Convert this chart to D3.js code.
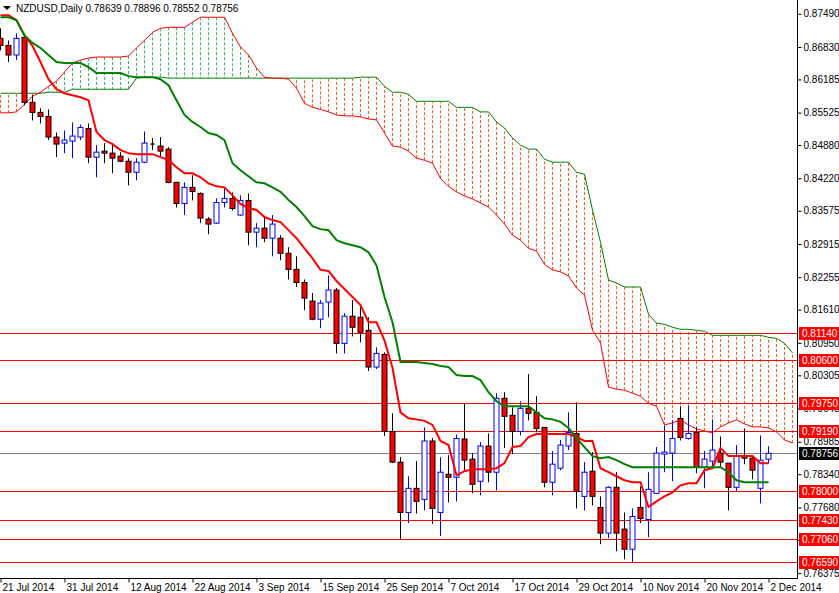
<!DOCTYPE html>
<html>
<head>
<meta charset="utf-8">
<script src="https://cdn.jsdelivr.net/npm/d3@7"></script>
<style>
  body { margin: 0; background: #fff; }
  svg text { font-family: "Liberation Sans", Arial, sans-serif; }
</style>
</head>
<body>
<svg id="chart" width="839" height="593"></svg>
<script>
// NZDUSD daily, 21 Jul 2014 .. 2 Dec 2014 (index 0 = 21 Jul)
var open = [0.8700,0.8686,0.8667,0.8702,0.8573,0.8553,0.8545,0.8504,0.8492,0.8496,
  0.8504,0.8521,0.8464,0.8476,0.8472,0.8466,0.8456,0.8434,0.8454,0.8490,
  0.8486,0.8480,0.8414,0.8372,0.8404,0.8392,0.8341,0.8333,0.8374,0.8382,
  0.8349,0.8378,0.8315,0.8323,0.8303,0.8303,0.8273,0.8241,0.8215,0.8178,
  0.8142,0.8176,0.8200,0.8094,0.8148,0.8146,0.8120,0.8047,0.8072,0.7919,
  0.7858,0.7758,0.7806,0.7784,0.7900,0.7758,0.7834,0.7828,0.7904,0.7864,
  0.7820,0.7890,0.7838,0.7985,0.7951,0.7919,0.7965,0.7957,0.7927,0.7818,
  0.7846,0.7890,0.7915,0.7790,0.7840,0.7768,0.7717,0.7808,0.7725,0.7685,
  0.7768,0.7744,0.7796,0.7874,0.7876,0.7945,0.7905,0.7917,0.7848,0.7860,
  0.7876,0.7856,0.7808,0.7870,0.7866,0.7806,0.78639];
var high = [0.8720,0.8696,0.8710,0.8710,0.8587,0.8561,0.8559,0.8513,0.8517,0.8533,
  0.8529,0.8531,0.8488,0.8492,0.8492,0.8474,0.8462,0.8462,0.8515,0.8502,
  0.8504,0.8484,0.8414,0.8414,0.8428,0.8394,0.8345,0.8382,0.8402,0.8394,
  0.8388,0.8392,0.8333,0.8345,0.8349,0.8309,0.8285,0.8267,0.8221,0.8194,
  0.8180,0.8229,0.8204,0.8154,0.8180,0.8166,0.8146,0.8086,0.8076,0.7955,
  0.7868,0.7830,0.7860,0.7927,0.7906,0.7868,0.7872,0.7913,0.7975,0.7876,
  0.7898,0.7915,0.7995,0.7997,0.7967,0.7979,0.8033,0.7989,0.7927,0.7880,
  0.7902,0.7957,0.7977,0.7858,0.7878,0.7790,0.7810,0.7838,0.7758,0.7766,
  0.7810,0.7838,0.7888,0.7931,0.7941,0.7969,0.7971,0.7927,0.7880,0.7943,
  0.7909,0.7856,0.7892,0.7925,0.7868,0.7911,0.78896];
var low = [0.8676,0.8653,0.8657,0.8567,0.8537,0.8531,0.8498,0.8464,0.8472,0.8462,
  0.8498,0.8452,0.8424,0.8452,0.8432,0.8454,0.8408,0.8418,0.8452,0.8478,
  0.8464,0.8412,0.8364,0.8349,0.8378,0.8333,0.8311,0.8331,0.8364,0.8358,
  0.8347,0.8289,0.8285,0.8295,0.8267,0.8259,0.8221,0.8206,0.8160,0.8140,
  0.8124,0.8146,0.8074,0.8074,0.8108,0.8096,0.8039,0.8043,0.7910,0.7856,
  0.7705,0.7737,0.7756,0.7762,0.7735,0.7711,0.7778,0.7780,0.7842,0.7796,
  0.7792,0.7818,0.7802,0.7886,0.7874,0.7911,0.7941,0.7917,0.7808,0.7792,
  0.7842,0.7882,0.7766,0.7762,0.7772,0.7695,0.7707,0.7681,0.7665,0.7659,
  0.7737,0.7709,0.7796,0.7838,0.7820,0.7901,0.7903,0.7836,0.7806,0.7846,
  0.7848,0.7762,0.7800,0.7854,0.7824,0.7776,0.78552];
var close = [0.8686,0.8667,0.8700,0.8573,0.8553,0.8545,0.8504,0.8490,0.8498,0.8506,
  0.8523,0.8464,0.8474,0.8472,0.8462,0.8456,0.8434,0.8454,0.8492,0.8490,
  0.8476,0.8414,0.8372,0.8404,0.8396,0.8343,0.8331,0.8374,0.8382,0.8362,
  0.8378,0.8315,0.8323,0.8303,0.8331,0.8273,0.8241,0.8215,0.8184,0.8142,
  0.8174,0.8200,0.8094,0.8148,0.8126,0.8116,0.8047,0.8074,0.7919,0.7858,
  0.7758,0.7806,0.7780,0.7900,0.7766,0.7838,0.7828,0.7905,0.7862,0.7814,
  0.7890,0.7838,0.7985,0.7949,0.7919,0.7965,0.7955,0.7925,0.7818,0.7854,
  0.7892,0.7917,0.7800,0.7838,0.7790,0.7717,0.7808,0.7717,0.7685,0.7750,
  0.7746,0.7804,0.7876,0.7878,0.7905,0.7907,0.7915,0.7848,0.7864,0.7882,
  0.7858,0.7808,0.7870,0.7866,0.7842,0.7862,0.78756];

var tenkan = [0.8746,0.8746,0.8736,0.8706,0.8685,0.8653,0.8619,0.8599,0.8591,0.8587,
  0.8583,0.8577,0.8514,0.8498,0.8490,0.8478,0.8472,0.8470,0.8470,0.8470,
  0.8464,0.8458,0.8444,0.8432,0.8432,0.8424,0.8412,0.8406,0.8404,0.8388,
  0.8371,0.8363,0.8359,0.8345,0.8339,0.8335,0.8319,0.8303,0.8283,0.8263,
  0.8240,0.8238,0.8218,0.8202,0.8186,0.8170,0.8136,0.8136,0.8100,0.8045,
  0.7957,0.7945,0.7943,0.7940,0.7932,0.7900,0.7892,0.7832,0.7840,0.7844,
  0.7844,0.7844,0.7846,0.7856,0.7888,0.7890,0.7908,0.7914,0.7914,0.7914,
  0.7914,0.7914,0.7908,0.7900,0.7900,0.7846,0.7838,0.7830,0.7822,0.7818,
  0.7818,0.7769,0.7780,0.7790,0.7798,0.7812,0.7816,0.7816,0.7842,0.7846,
  0.7886,0.7870,0.7870,0.7870,0.7870,0.7856,0.7856];
var kijun = [0.8742,0.8742,0.8736,0.8706,0.8691,0.8681,0.8667,0.8653,0.8651,0.8651,
  0.8651,0.8643,0.8631,0.8631,0.8631,0.8631,0.8625,0.8623,0.8623,0.8623,
  0.8619,0.8607,0.8577,0.8548,0.8534,0.8524,0.8512,0.8508,0.8498,0.8452,
  0.8438,0.8426,0.8414,0.8412,0.8404,0.8395,0.8379,0.8365,0.8347,0.8327,
  0.8321,0.8319,0.8299,0.8293,0.8289,0.8285,0.8275,0.8249,0.8186,0.8136,
  0.8057,0.8057,0.8057,0.8055,0.8053,0.8049,0.8047,0.8031,0.8029,0.8029,
  0.8021,0.7997,0.7979,0.7969,0.7969,0.7969,0.7969,0.7957,0.7945,0.7943,
  0.7938,0.7926,0.7906,0.7888,0.7870,0.7866,0.7868,0.7862,0.7854,0.7848,
  0.7848,0.7848,0.7848,0.7848,0.7848,0.7848,0.7848,0.7848,0.7848,0.7848,
  0.7848,0.7838,0.7822,0.7818,0.7818,0.7818,0.7818];
// cloud, shifted forward: index 0..99
var spanA = [0.8552,0.8552,0.8554,0.8569,0.8585,0.8593,0.8605,0.8615,0.8633,0.8651,
  0.8657,0.8661,0.8663,0.8663,0.8663,0.8663,0.8665,0.8681,0.8696,0.8712,
  0.8720,0.8722,0.8722,0.8722,0.8732,0.8742,0.8742,0.8742,0.8742,0.8710,
  0.8683,0.8667,0.8641,0.8623,0.8621,0.8621,0.8619,0.8601,0.8571,0.8563,
  0.8559,0.8554,0.8548,0.8546,0.8546,0.8544,0.8540,0.8538,0.8512,0.8486,
  0.8484,0.8476,0.8462,0.8458,0.8452,0.8422,0.8406,0.8395,0.8387,0.8381,
  0.8373,0.8365,0.8349,0.8331,0.8309,0.8299,0.8283,0.8277,0.8251,0.8240,
  0.8236,0.8228,0.8204,0.8190,0.8120,0.8095,0.8007,0.8003,0.8001,0.7995,
  0.7989,0.7975,0.7969,0.7932,0.7936,0.7942,0.7932,0.7924,0.7920,0.7916,
  0.7928,0.7936,0.7942,0.7934,0.7928,0.7928,0.7926,0.7918,0.7902,0.7896];
var spanB = [0.8591,0.8591,0.8591,0.8591,0.8591,0.8591,0.8593,0.8593,0.8593,0.8599,
  0.8599,0.8599,0.8599,0.8599,0.8599,0.8599,0.8599,0.8621,0.8623,0.8623,
  0.8623,0.8621,0.8621,0.8621,0.8621,0.8621,0.8621,0.8621,0.8621,0.8621,
  0.8621,0.8621,0.8621,0.8621,0.8621,0.8621,0.8621,0.8621,0.8621,0.8621,
  0.8621,0.8621,0.8621,0.8621,0.8621,0.8623,0.8623,0.8623,0.8605,0.8593,
  0.8593,0.8589,0.8575,0.8575,0.8575,0.8575,0.8575,0.8563,0.8563,0.8563,
  0.8554,0.8554,0.8534,0.8522,0.8502,0.8488,0.8480,0.8480,0.8460,0.8454,
  0.8454,0.8454,0.8434,0.8430,0.8359,0.8295,0.8220,0.8214,0.8206,0.8206,
  0.8206,0.8152,0.8134,0.8132,0.8126,0.8122,0.8122,0.8120,0.8118,0.8110,
  0.8110,0.8110,0.8110,0.8110,0.8110,0.8110,0.8106,0.8104,0.8094,0.8075];

var axisTicks = [0.87490,0.86830,0.86185,0.85525,0.84880,0.84220,0.83575,0.82915,0.82255,
  0.81610,0.80950,0.80305,0.79645,0.78985,0.78340,0.77680,0.77035,0.76375];
var levels = [0.81140,0.80600,0.79750,0.79190,0.78000,0.77430,0.77060,0.76590];
var lastPrice = 0.78756;
var dateLabels = ["21 Jul 2014","31 Jul 2014","12 Aug 2014","22 Aug 2014","3 Sep 2014",
  "15 Sep 2014","25 Sep 2014","7 Oct 2014","17 Oct 2014","29 Oct 2014","10 Nov 2014",
  "20 Nov 2014","2 Dec 2014"];
var dateIndex = [0,8,16,24,32,40,48,56,64,72,80,88,96];

const svg = d3.select("#chart");
const plotW = 797, plotH = 578;

const x = d3.scaleLinear().domain([0, plotW / 8]).range([0, plotW]);
const y = d3.scaleLinear().domain([0.76278, 0.87763]).range([plotH, 0]);

svg.append("defs").append("clipPath").attr("id", "clip")
  .append("rect").attr("width", plotW).attr("height", plotH);
const plot = svg.append("g").attr("clip-path", "url(#clip)");

// cloud hatch
plot.append("g").selectAll("line").data(spanA).join("line")
  .attr("x1", (d, i) => x(i) + 0.5).attr("x2", (d, i) => x(i) + 0.5)
  .attr("y1", d => y(d)).attr("y2", (d, i) => y(spanB[i]))
  .attr("stroke", (d, i) => d >= spanB[i] ? "#3cb371" : "#ff5a1a")
  .attr("stroke-width", 1).attr("stroke-dasharray", "3,2");

const line = d3.line().x((d, i) => x(i) + 0.5).y(d => y(d));
plot.append("path").attr("d", line(spanB)).attr("fill", "none").attr("stroke", "#008000").attr("stroke-width", 1);
plot.append("path").attr("d", line(spanA)).attr("fill", "none").attr("stroke", "#ff0000").attr("stroke-width", 1);

// levels
plot.append("g").selectAll("line").data(levels).join("line")
  .attr("x1", 0).attr("x2", plotW)
  .attr("y1", d => Math.round(y(d)) + 0.5).attr("y2", d => Math.round(y(d)) + 0.5)
  .attr("stroke", "#ff0000").attr("stroke-width", 1);
plot.append("line").attr("x1", 0).attr("x2", plotW)
  .attr("y1", Math.round(y(lastPrice)) + 0.5).attr("y2", Math.round(y(lastPrice)) + 0.5)
  .attr("stroke", "#808080");

// candles
const candles = plot.append("g");
open.forEach((o, i) => {
  const c = close[i];
  const bull = c > o, doji = c === o;
  const cx = Math.round(x(i)) + 0.5;
  const col = bull ? "#0000ff" : "#000000";
  candles.append("line").attr("x1", cx).attr("x2", cx)
    .attr("y1", y(high[i])).attr("y2", y(low[i])).attr("stroke", col);
  if (doji) {
    candles.append("line").attr("x1", cx - 2).attr("x2", cx + 2)
      .attr("y1", y(o)).attr("y2", y(o)).attr("stroke", "#000").attr("stroke-width", 1.5);
  } else {
    const top = y(Math.max(o, c)), bot = y(Math.min(o, c));
    candles.append("rect").attr("x", cx - 2.5).attr("width", 5)
      .attr("y", top).attr("height", Math.max(bot - top, 1.5))
      .attr("fill", bull ? "#ffffff" : "#ff0000").attr("stroke", col).attr("stroke-width", 1);
  }
});

plot.append("path").attr("d", line(tenkan)).attr("fill", "none").attr("stroke", "#ff0000").attr("stroke-width", 2);
plot.append("path").attr("d", line(kijun)).attr("fill", "none").attr("stroke", "#008000").attr("stroke-width", 2);

// frame
svg.append("line").attr("x1", plotW + 0.5).attr("x2", plotW + 0.5).attr("y1", 0).attr("y2", plotH + 1).attr("stroke", "#000");
svg.append("line").attr("x1", 0).attr("x2", plotW + 1).attr("y1", plotH + 0.5).attr("y2", plotH + 0.5).attr("stroke", "#000");

// right axis
const ra = svg.append("g").attr("transform", `translate(${plotW + 0.5},0)`)
  .call(d3.axisRight(y).tickValues(axisTicks).tickFormat(d3.format(".5f")).tickSize(4).tickSizeOuter(0).tickPadding(2));
ra.select(".domain").remove();
ra.selectAll("text").attr("font-size", 10).attr("fill", "#000").attr("font-family", "Liberation Sans, Arial, sans-serif");

// level labels
const tags = svg.append("g");
levels.concat([lastPrice]).forEach(v => {
  const yy = Math.round(y(v));
  const last = v === lastPrice;
  tags.append("rect").attr("x", plotW + 2).attr("y", yy - 6).attr("width", 40).attr("height", 13)
    .attr("fill", last ? "#000" : "#ff0000");
  tags.append("text").attr("x", plotW + 5).attr("y", yy + 4).attr("font-size", 10)
    .attr("fill", "#fff").text(d3.format(".5f")(v));
});

// bottom axis
const ba = svg.append("g").attr("transform", `translate(0,${plotH + 0.5})`)
  .call(d3.axisBottom(x).tickValues(dateIndex).tickSize(4).tickSizeOuter(0).tickFormat((d, i) => dateLabels[i]));
ba.select(".domain").remove();
ba.selectAll(".tick line").attr("transform", "translate(0.5,0)");
ba.selectAll("text").attr("font-size", 10).attr("fill", "#000").attr("text-anchor", "start")
  .attr("dx", 2).attr("dy", "0.55em").attr("font-family", "Liberation Sans, Arial, sans-serif");

// title
svg.append("path").attr("d", "M3,6 L11,6 L7,10 Z").attr("fill", "#000");
svg.append("text").attr("x", 16).attr("y", 12).attr("font-size", 10).attr("fill", "#000")
  .text("NZDUSD,Daily  0.78639 0.78896 0.78552 0.78756");
</script>
</body>
</html>
